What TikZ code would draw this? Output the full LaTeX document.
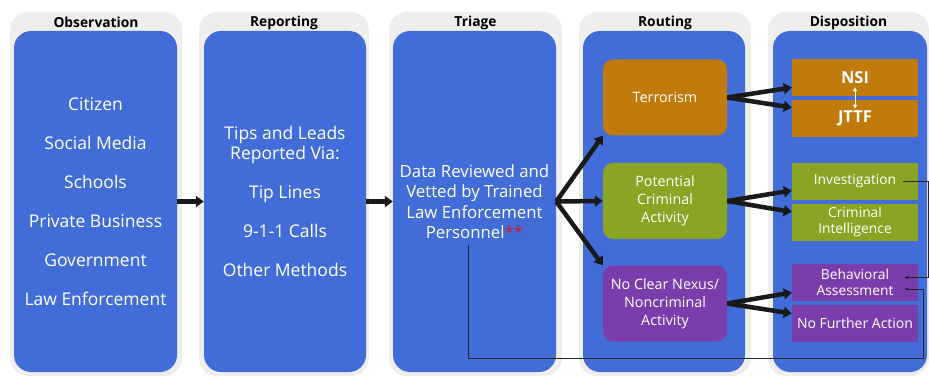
\documentclass[tikz,border=0pt]{standalone}
\usepackage{fontspec}
\setsansfont{Open Sans}
\usetikzlibrary{arrows.meta}
\definecolor{panelgray}{RGB}{238,238,238}
\definecolor{panelblue}{RGB}{66,108,216}
\definecolor{terrorange}{RGB}{193,122,12}
\definecolor{crimgreen}{RGB}{138,165,36}
\definecolor{nexuspurple}{RGB}{122,62,172}
\definecolor{starred}{RGB}{200,30,40}

\begin{document}
\begin{tikzpicture}[x=1pt, y=-1pt,
      every node/.append style={inner sep=0pt, align=center, text=white},
      fat/.style={draw=black!90, line width=4.5pt, -{Triangle[length=8pt,width=11pt]}},
      fine/.style={draw=black!85, line width=0.8pt, -{Latex[length=4pt,width=3.5pt]}}]
    \tikzstyle{panel} = [fill=panelgray, rounded corners=18pt, minimum height=364pt]
    \tikzstyle{heading} = [text=black, font=\sffamily\bfseries\fontsize{13.8}{16}\selectfont]
    \tikzstyle{column} = [fill=panelblue, rounded corners=17pt, minimum height=341pt]
    \tikzstyle{route} = [rounded corners=10pt, minimum width=124pt, minimum height=76pt,
      font=\sffamily\fontsize{14.3}{18}\selectfont]
    \tikzstyle{outcome} = [minimum width=126pt, minimum height=37pt,
      font=\sffamily\fontsize{13.8}{16.5}\selectfont]
    \useasboundingbox (0,0) rectangle (929,377);
    \foreach \cx/\w/\ttl [count=\i] in {96/172/Observation, 284/170/Reporting,
        475.5/173/Triage, 665/172/Routing, 848.5/161/Disposition} {
      \node (panel\i) [panel, minimum width=\w pt] at (\cx,194) {};
      \node (title\i) [heading] at (\cx,22.5) {\ttl};
    }
    \node (obs) [column, minimum width=163pt, font=\sffamily\fontsize{17.5}{39}\selectfont]
      at (95.5,201.5) {Citizen\\Social Media\\Schools\\Private Business\\Government\\Law Enforcement};
    \node (rep) [column, minimum width=162pt, font=\sffamily\fontsize{17.5}{20}\selectfont]
      at (285,201.5) {Tips and Leads\\Reported Via:\\[19pt]Tip Lines\\[19pt]9-1-1 Calls\\[19pt]Other Methods};
    \node (tri) [column, minimum width=163pt, font=\sffamily\fontsize{16.8}{20.5}\selectfont]
      at (474.5,201.5) {Data Reviewed and\\Vetted by Trained\\Law Enforcement\\Personnel{\color{starred}**}};
    \node (rout) [column, minimum width=162pt] at (664,201.5) {};
    \node (disp) [column, minimum width=154pt] at (850,201.5) {};

    \node (terr) [route, fill=terrorange] at (665,97.5) {Terrorism};
    \node (pot) [route, fill=crimgreen] at (665,201) {Potential\\Criminal\\Activity};
    \node (nexus) [route, fill=nexuspurple] at (665,303.5) {No Clear Nexus/\\Noncriminal\\Activity};

    \node (nsi) [outcome, fill=terrorange, font=\sffamily\bfseries\fontsize{16.5}{18}\selectfont] at (855,77.5) {NSI};
    \node (jttf) [outcome, fill=terrorange, font=\sffamily\bfseries\fontsize{16.5}{18}\selectfont] at (855,118.5) {JTTF};
    \node (inv) [outcome, fill=crimgreen] at (855,181.5) {Investigation};
    \node (intel) [outcome, fill=crimgreen] at (855,222) {Criminal\\Intelligence};
    \node (ba) [outcome, fill=nexuspurple] at (855,282.5) {Behavioral\\Assessment};
    \node (nfa) [outcome, fill=nexuspurple, font=\sffamily\fontsize{14}{16.5}\selectfont] at (855,323.5) {No Further Action};

    \draw[fat] (obs) -- (rep);
    \draw[fat] (rep) -- (tri);
    \draw[fat] (tri.east) -- (terr.south west);
    \draw[fat] (tri.east) -- (pot.west);
    \draw[fat] (tri.east) -- (nexus.north west);
    \draw[fat] (terr.east) -- ([yshift=-10pt]nsi.west);
    \draw[fat] (terr.east) -- ([yshift=11pt]jttf.west);
    \draw[fat] (pot.east) -- ([yshift=-9pt]inv.west);
    \draw[fat] (pot.east) -- ([yshift=10pt]intel.west);
    \draw[fat] (nexus.east) -- ([yshift=-10pt]ba.west);
    \draw[fat] (nexus.east) -- ([yshift=10pt]nfa.west);
    \draw[white, line width=0.9pt, {Latex[length=4pt,width=5pt]}-{Latex[length=4pt,width=5pt]}]
      ([yshift=9pt]nsi.south) -- ([yshift=-9pt]jttf.north);
    \draw[fine] ([xshift=-15pt]inv.east) -- ++(25,0) |- ([xshift=-14pt,yshift=5pt]ba.east);
    \draw[fine] ([xshift=-6pt,yshift=-43.5pt]tri.center) -- ++(0,113) -- ++(455,0)
      |- ([xshift=-14pt,yshift=-6.5pt]ba.east);
\end{tikzpicture}
\end{document}
